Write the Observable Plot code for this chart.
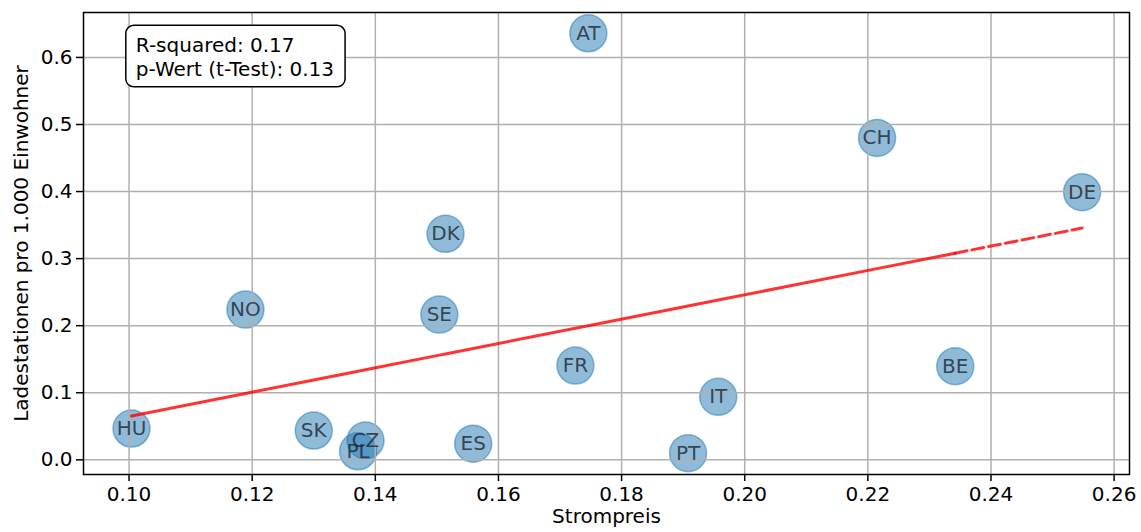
<!DOCTYPE html>
<html>
<head>
<meta charset="utf-8">
<script src="https://cdn.jsdelivr.net/npm/d3@7"></script>
<script src="https://cdn.jsdelivr.net/npm/@observablehq/plot@0.6"></script>
<style>
  html, body { margin: 0; padding: 0; background: white; }
</style>
</head>
<body>
<div id="chart"></div>
<script>
const countries = ["AT","CH","DE","DK","NO","SE","FR","BE","IT","HU","SK","CZ","PL","ES","PT"];
const strompreis = [0.1746,0.2215,0.2548,0.1514,0.1189,0.1504,0.1725,0.2342,0.1957,0.1004,0.1300,0.1384,0.1372,0.1559,0.1908];
const ladestationen = [0.636,0.480,0.399,0.337,0.224,0.2165,0.1406,0.1395,0.094,0.0466,0.0436,0.0288,0.0127,0.0241,0.0099];
const xTicks = [0.10,0.12,0.14,0.16,0.18,0.20,0.22,0.24,0.26];
const yTicks = [0.0,0.1,0.2,0.3,0.4,0.5,0.6];
const annotationLines = ["R-squared: 0.17", "p-Wert (t-Test): 0.13"];
const xLabel = "Strompreis";
const yLabel = "Ladestationen pro 1.000 Einwohner";

const data = countries.map((c, i) => ({code: c, x: strompreis[i], y: ladestationen[i]}));

// least-squares fit
const mx = d3.mean(strompreis), my = d3.mean(ladestationen);
const sxy = d3.sum(data, d => (d.x - mx) * (d.y - my));
const sxx = d3.sum(data, d => (d.x - mx) ** 2);
const slope = sxy / sxx, intercept = my - slope * mx;
const sortedX = [...strompreis].sort(d3.ascending);
const fitSolid = sortedX.slice(0, -1).map(x => ({x, y: intercept + slope * x}));
const fitDashed = sortedX.slice(-2).map(x => ({x, y: intercept + slope * x}));

const FS = 20;
const W = 1141, H = 532, ML = 83, MR = 12, MT = 12, MB = 58;
const plotW = W - ML - MR, plotH = H - MT - MB;

const chart = Plot.plot({
  width: W, height: H,
  marginLeft: ML, marginRight: MR, marginTop: MT, marginBottom: MB,
  style: {fontFamily: "DejaVu Sans", fontSize: FS + "px", background: "white", color: "black", overflow: "visible"},
  x: {domain: [0.0926, 0.2625]},
  y: {domain: [-0.0219, 0.667]},
  marks: [
    Plot.dot(data, {x: "x", y: "y", r: 18.5, fill: "#1f77b4", fillOpacity: 0.5, stroke: "#1f77b4", strokeOpacity: 0.5, strokeWidth: 1.5}),
    Plot.gridX(xTicks, {stroke: "#b0b0b0", strokeOpacity: 1, strokeWidth: 1.5}),
    Plot.gridY(yTicks, {stroke: "#b0b0b0", strokeOpacity: 1, strokeWidth: 1.5}),
    Plot.line(fitSolid, {x: "x", y: "y", stroke: "red", strokeOpacity: 0.8, strokeWidth: 3}),
    Plot.line(fitDashed, {x: "x", y: "y", stroke: "red", strokeOpacity: 0.8, strokeWidth: 3, strokeDasharray: "12,5"}),
    Plot.text(data, {x: "x", y: "y", text: "code", fill: "#1a2530", fillOpacity: 0.8, fontSize: FS}),
    Plot.text([annotationLines.join("\n")], {frameAnchor: "top-left", dx: 0.05 * plotW, dy: 23, textAnchor: "start", lineAnchor: "top", lineHeight: 1.18, fontSize: FS, text: d => d}),
    Plot.axisX(xTicks, {tickFormat: d3.format(".2f"), tickSize: 7, tickPadding: 5, strokeWidth: 1.5, fontSize: FS, label: null}),
    Plot.axisY(yTicks, {tickFormat: d3.format(".1f"), tickSize: 7, tickPadding: 4, strokeWidth: 1.5, fontSize: FS, label: null}),
    Plot.frame({stroke: "black", strokeWidth: 1.5}),
    Plot.text([xLabel], {frameAnchor: "bottom", dy: 48, textAnchor: "middle", fontSize: FS, text: d => d}),
    Plot.text([yLabel], {frameAnchor: "left", dx: -62, textAnchor: "middle", rotate: -90, fontSize: FS, text: d => d})
  ]
});

document.getElementById("chart").appendChild(chart);

// rounded box behind annotation
const texts = Array.from(chart.querySelectorAll("text"));
const ann = texts.find(t => t.textContent.startsWith(annotationLines[0]));
if (ann) {
  const bb = ann.getBBox();
  const rect = document.createElementNS("http://www.w3.org/2000/svg", "rect");
  rect.setAttribute("x", bb.x - 10);
  rect.setAttribute("y", bb.y - 8);
  rect.setAttribute("width", bb.width + 21);
  rect.setAttribute("height", bb.height + 14);
  rect.setAttribute("rx", 8);
  rect.setAttribute("fill", "white");
  rect.setAttribute("stroke", "black");
  rect.setAttribute("stroke-width", 1.5);
  const tr = ann.getAttribute("transform");
  if (tr) rect.setAttribute("transform", tr);
  ann.parentNode.insertBefore(rect, ann);
}
</script>
</body>
</html>
